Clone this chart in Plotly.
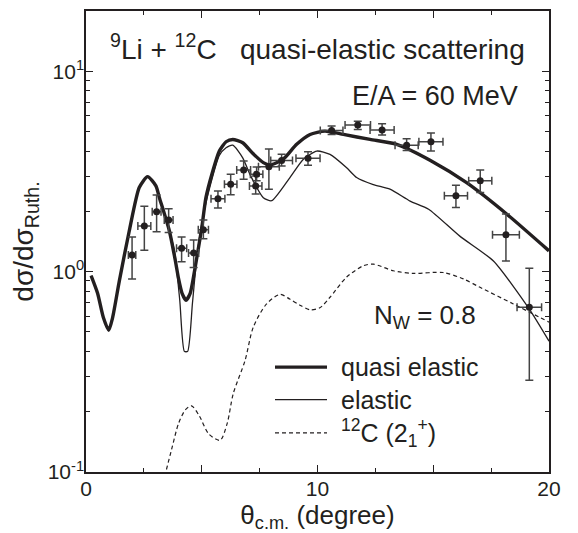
import plotly.graph_objects as go

# ---------------- data ----------------
exp_theta = [1.99, 2.52, 3.05, 3.57, 4.13, 4.65, 5.07, 5.70, 6.25, 6.81, 7.33, 7.37,
             7.90, 8.45, 9.59, 10.61, 11.74, 12.79, 13.85, 14.90, 15.98, 17.03, 18.14, 19.15]
exp_val = [1.21, 1.69, 1.99, 1.81, 1.31, 1.24, 1.62, 2.31, 2.73, 3.22, 2.68, 3.06,
           3.34, 3.59, 3.68, 5.07, 5.39, 5.10, 4.28, 4.45, 2.39, 2.84, 1.53, 0.664]
exp_hi = [1.49, 2.12, 2.41, 2.06, 1.49, 1.44, 1.81, 2.53, 3.06, 3.57, 3.00, 3.33,
          4.10, 3.85, 3.97, 5.33, 5.64, 5.47, 4.60, 4.92, 2.70, 3.22, 1.94, 1.04]
exp_lo = [0.92, 1.28, 1.58, 1.57, 1.12, 1.05, 1.46, 2.08, 2.42, 2.89, 2.44, 2.84,
          2.58, 3.37, 3.40, 4.84, 5.13, 4.81, 4.03, 4.00, 2.09, 2.48, 1.13, 0.287]
exp_xerr = [0.16, 0.28, 0.19, 0.19, 0.22, 0.22, 0.22, 0.30, 0.27, 0.30, 0.27, 0.27,
            0.45, 0.47, 0.52, 0.49, 0.55, 0.52, 0.50, 0.52, 0.50, 0.50, 0.58, 0.53]

qe_theta = [0.22, 0.5, 0.75, 0.98, 1.15, 1.44, 1.87, 2.30, 2.66, 3.02, 3.17, 3.6, 3.85,
            4.0, 4.15, 4.32, 4.5, 4.65, 4.8, 5.0, 5.18, 5.45, 5.76, 6.05, 6.34, 6.77,
            7.2, 7.66, 7.95, 8.52, 9.1, 9.68, 10.32, 11.12, 12.27, 13.42, 14.86,
            16.44, 18.17, 20.0]
qe_val = [0.955, 0.78, 0.59, 0.51, 0.59, 0.90, 1.6, 2.63, 2.98, 2.68, 2.34, 1.6, 1.15,
          0.92, 0.78, 0.72, 0.78, 0.95, 1.2, 1.65, 2.34, 3.1, 4.0, 4.45, 4.57, 4.40,
          3.9, 3.5, 3.41, 3.64, 4.32, 4.84, 5.03, 4.84, 4.57, 4.32, 3.6,
          2.78, 1.94, 1.27]

el_theta = [0.22, 0.5, 0.75, 0.98, 1.15, 1.44, 1.87, 2.30, 2.66, 3.02, 3.17, 3.6, 3.82,
            4.05, 4.25, 4.39, 4.6, 4.82, 5.18, 5.76, 6.05, 6.34, 6.77, 7.08, 7.66, 8.02,
            8.81, 9.39, 9.97, 10.54, 11.26, 11.69, 12.41, 13.13, 14.0, 14.8, 16.16,
            17.6, 19.15, 20.0]
el_val = [0.955, 0.78, 0.59, 0.51, 0.59, 0.90, 1.6, 2.63, 2.98, 2.68, 2.34, 1.6, 1.27,
          0.72, 0.40, 0.40, 0.70, 1.27, 2.2, 3.8, 4.15, 4.28, 3.7, 3.06, 2.34, 2.26,
          2.95, 3.64, 4.0, 3.85, 3.3, 2.95, 2.72, 2.58, 2.25, 2.05, 1.5,
          1.13, 0.65, 0.45]

c2_theta = [3.4, 3.7, 4.0, 4.3, 4.56, 4.9, 5.3, 5.79, 6.1, 6.36, 6.87, 7.23, 7.8, 8.38,
            8.8, 9.24, 9.68, 10.1, 10.54, 11.26, 11.98, 12.41, 13.28, 14.14, 15.43,
            16.3, 17.02, 18.46, 20.0]
c2_val = [0.095, 0.13, 0.175, 0.205, 0.214, 0.19, 0.155, 0.144, 0.175, 0.246, 0.36,
          0.53, 0.69, 0.77, 0.73, 0.68, 0.645, 0.66, 0.745, 0.94, 1.07, 1.09, 1.01,
          0.98, 0.99, 0.92, 0.835, 0.69, 0.56]

y_tickvals = [0.1, 1, 10]
y_ticktext = ["10<sup>-1</sup>", "10<sup>0</sup>", "10<sup>1</sup>"]
y_minor = [0.2, 0.3, 0.4, 0.5, 0.6, 0.7, 0.8, 0.9, 2, 3, 4, 5, 6, 7, 8, 9, 20]
x_tickvals = [0, 5, 10, 15, 20]
x_ticktext = ["0", "", "10", "", "20"]
x_minor = [2.5, 7.5, 12.5, 17.5]

legend_labels = ["quasi elastic", "elastic", "<sup>12</sup>C (2<sub>1</sub><sup>+</sup>)"]

# ---------------- figure ----------------
FONT = "Liberation Sans, Arial, Helvetica, sans-serif"
INK = "#231f20"

fig = go.Figure()

fig.add_trace(go.Scatter(x=c2_theta, y=c2_val, mode="lines",
                         line=dict(color=INK, width=1.2, dash="4px,3px", shape="spline", smoothing=0.8),
                         showlegend=False, hoverinfo="skip"))
fig.add_trace(go.Scatter(x=el_theta, y=el_val, mode="lines",
                         line=dict(color=INK, width=1.3, shape="spline", smoothing=0.6),
                         showlegend=False, hoverinfo="skip"))
fig.add_trace(go.Scatter(x=qe_theta, y=qe_val, mode="lines",
                         line=dict(color=INK, width=3.4, shape="spline", smoothing=0.6),
                         showlegend=False, hoverinfo="skip"))

fig.add_trace(go.Scatter(
    x=exp_theta, y=exp_val, mode="markers",
    marker=dict(color=INK, size=7),
    error_y=dict(type="data", symmetric=False,
                 array=[h - v for h, v in zip(exp_hi, exp_val)],
                 arrayminus=[v - l for v, l in zip(exp_val, exp_lo)],
                 color="#444", thickness=1.5, width=4),
    error_x=dict(type="data", array=exp_xerr, color="#444", thickness=1.5, width=4),
    showlegend=False))

# page coordinates of the plot frame (page has an 8px body margin)
OFF = 8
L, R, T, B = 86, 549, 9, 472
W, H = R - L, B - T
FIG_W, FIG_H = 578 - OFF, 533 - OFF


def px(x):
    return (x - L) / W


def py(y):
    return (B - y) / H


# legend drawn with shapes + labels
leg_y = [366.7, 399.3, 432.7]
leg_w = [3.4, 1.3, 1.2]
leg_d = ["solid", "solid", "4px,3px"]
for yy, ww, dd, lab in zip(leg_y, leg_w, leg_d, legend_labels):
    fig.add_shape(type="line", xref="paper", yref="paper",
                  x0=px(275), x1=px(327), y0=py(yy), y1=py(yy),
                  line=dict(color=INK, width=ww, dash=dd))
    fig.add_annotation(xref="paper", yref="paper", x=px(339), y=py(yy),
                       xanchor="left", yanchor="middle", text=lab, showarrow=False,
                       font=dict(family=FONT, size=25, color=INK))

fig.add_annotation(xref="paper", yref="paper", x=px(108), y=py(45),
                   xanchor="left", yanchor="middle",
                   text="<sup>9</sup>Li + <sup>12</sup>C\u00a0\u00a0\u00a0quasi-elastic scattering",
                   showarrow=False, font=dict(family=FONT, size=28, color=INK))
fig.add_annotation(xref="paper", yref="paper", x=px(520), y=py(94),
                   xanchor="right", yanchor="middle", text="E/A = 60 MeV",
                   showarrow=False, font=dict(family=FONT, size=27, color=INK))
fig.add_annotation(xref="paper", yref="paper", x=px(372), y=py(316),
                   xanchor="left", yanchor="middle", text="N<sub>W</sub> = 0.8",
                   showarrow=False, font=dict(family=FONT, size=26, color=INK))

axis_common = dict(showline=True, linecolor=INK, linewidth=1.5, mirror="ticks",
                   ticks="inside", tickcolor=INK, tickwidth=1.2, showgrid=False,
                   zeroline=False, tickfont=dict(family=FONT, size=21, color=INK))

fig.update_xaxes(range=[0, 20], tickmode="array", tickvals=x_tickvals, ticktext=x_ticktext,
                 ticklen=7, ticklabelstandoff=-3,
                 minor=dict(tickmode="array", tickvals=x_minor, ticks="inside", ticklen=4,
                            tickcolor=INK, tickwidth=1.2, showgrid=False),
                 title=dict(text="\u03b8<sub>c.m.</sub> (degree)", standoff=8,
                            font=dict(family=FONT, size=26, color=INK)),
                 **axis_common)
fig.update_yaxes(type="log", range=[-1, 1.301], tickmode="array", tickvals=y_tickvals,
                 ticktext=y_ticktext, ticklen=7, ticklabelstandoff=-4,
                 minor=dict(tickmode="array", tickvals=y_minor, ticks="inside", ticklen=4,
                            tickcolor=INK, tickwidth=1.2, showgrid=False),
                 title=dict(text="d\u03c3/d\u03c3<sub>Ruth.</sub>", standoff=6,
                            font=dict(family=FONT, size=28, color=INK)),
                 **axis_common)

fig.update_layout(width=FIG_W, height=FIG_H,
                  margin=dict(l=L - OFF, r=FIG_W - (R - OFF), t=T - OFF, b=FIG_H - (B - OFF)),
                  plot_bgcolor="white", paper_bgcolor="white", showlegend=False,
                  font=dict(family=FONT, color=INK))

fig.write_html("out.html")
